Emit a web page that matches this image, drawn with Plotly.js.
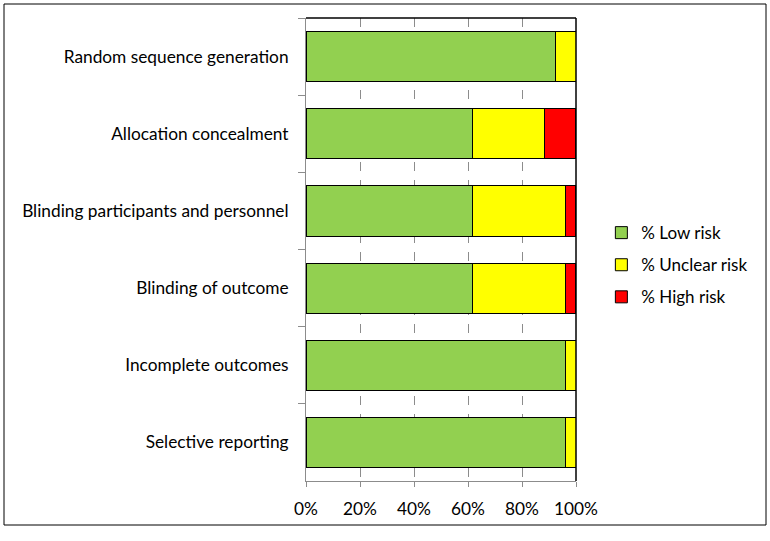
<!DOCTYPE html>
<html>
<head>
<meta charset="utf-8">
<script src="https://cdn.plot.ly/plotly-3.0.1.min.js"></script>
<style>html,body{margin:0;padding:0;background:#fff;}#chart{width:770px;height:541px;}</style>
</head>
<body>
<div id="chart"></div>
<script>
const categories = ["Random sequence generation","Allocation concealment","Blinding participants and personnel","Blinding of outcome","Incomplete outcomes","Selective reporting"];
const lowRisk = [92.3, 61.5, 61.5, 61.5, 96.2, 96.2];
const unclearRisk = [7.7, 26.9, 34.6, 34.6, 3.8, 3.8];
const highRisk = [0, 11.5, 3.8, 3.8, 0, 0];
const seriesNames = ["% Low risk","% Unclear risk","% High risk"];
const xTicks = [0,20,40,60,80,100];

const colors = ["#92D050","#FFFF00","#FF0000"];
const vals = [lowRisk, unclearRisk, highRisk];
const FONT = "Lato, 'Open Sans', sans-serif";

const traces = vals.map((v,i)=>({
  type:"bar", orientation:"h", x:v, y:categories, name:seriesNames[i],
  legendgroup:"g"+i,
  marker:{color:colors[i], line:{color:"#000", width:1}},
  hoverinfo:"x+y+name"
}));

const layout = {
  width:770, height:541,
  margin:{l:306, r:194, t:18, b:60, autoexpand:false},
  barmode:"stack", bargap:0.35,
  paper_bgcolor:"#fff", plot_bgcolor:"#fff",
  font:{family:FONT, size:17.3, color:"#000"},
  showlegend:true,
  legend:{xref:"container", yref:"container", x:0.781, y:0.51, xanchor:"left", yanchor:"middle", traceorder:"grouped", tracegroupgap:7,
          font:{family:FONT, size:17, color:"#000"}, bgcolor:"rgba(0,0,0,0)"},
  xaxis:{range:[0,100], tickvals:xTicks, ticktext:xTicks.map(t=>t+"%"), showgrid:true, gridcolor:"#8c8c8c",
         griddash:"dash", gridwidth:1, zeroline:false, showline:true, linecolor:"#8c8c8c", linewidth:1,
         ticks:"outside", ticklen:5, tickcolor:"#8c8c8c", ticklabelstandoff:7, fixedrange:true},
  yaxis:{type:"category", autorange:"reversed", showgrid:false, showline:true, linecolor:"#8c8c8c", linewidth:1,
         ticks:"outside", ticklen:7, tickcolor:"#8c8c8c", tickson:"boundaries", ticklabelstandoff:13, zeroline:false, fixedrange:true},
  shapes:[
    {type:"line", xref:"paper", yref:"paper", x0:0, x1:1, y0:1, y1:1, line:{color:"#000", width:1.5}},
    {type:"line", xref:"paper", yref:"paper", x0:1, x1:1, y0:0, y1:1, line:{color:"#000", width:1.5}},
    {type:"rect", xref:"paper", yref:"paper", x0:(4-306)/270, x1:(766-306)/270, y0:(481-525)/463, y1:(481-4)/463,
     line:{color:"#000", width:1}, fillcolor:"rgba(0,0,0,0)", layer:"below"}
  ]
};
Plotly.newPlot("chart", traces, layout, {displayModeBar:false});
</script>
</body>
</html>
